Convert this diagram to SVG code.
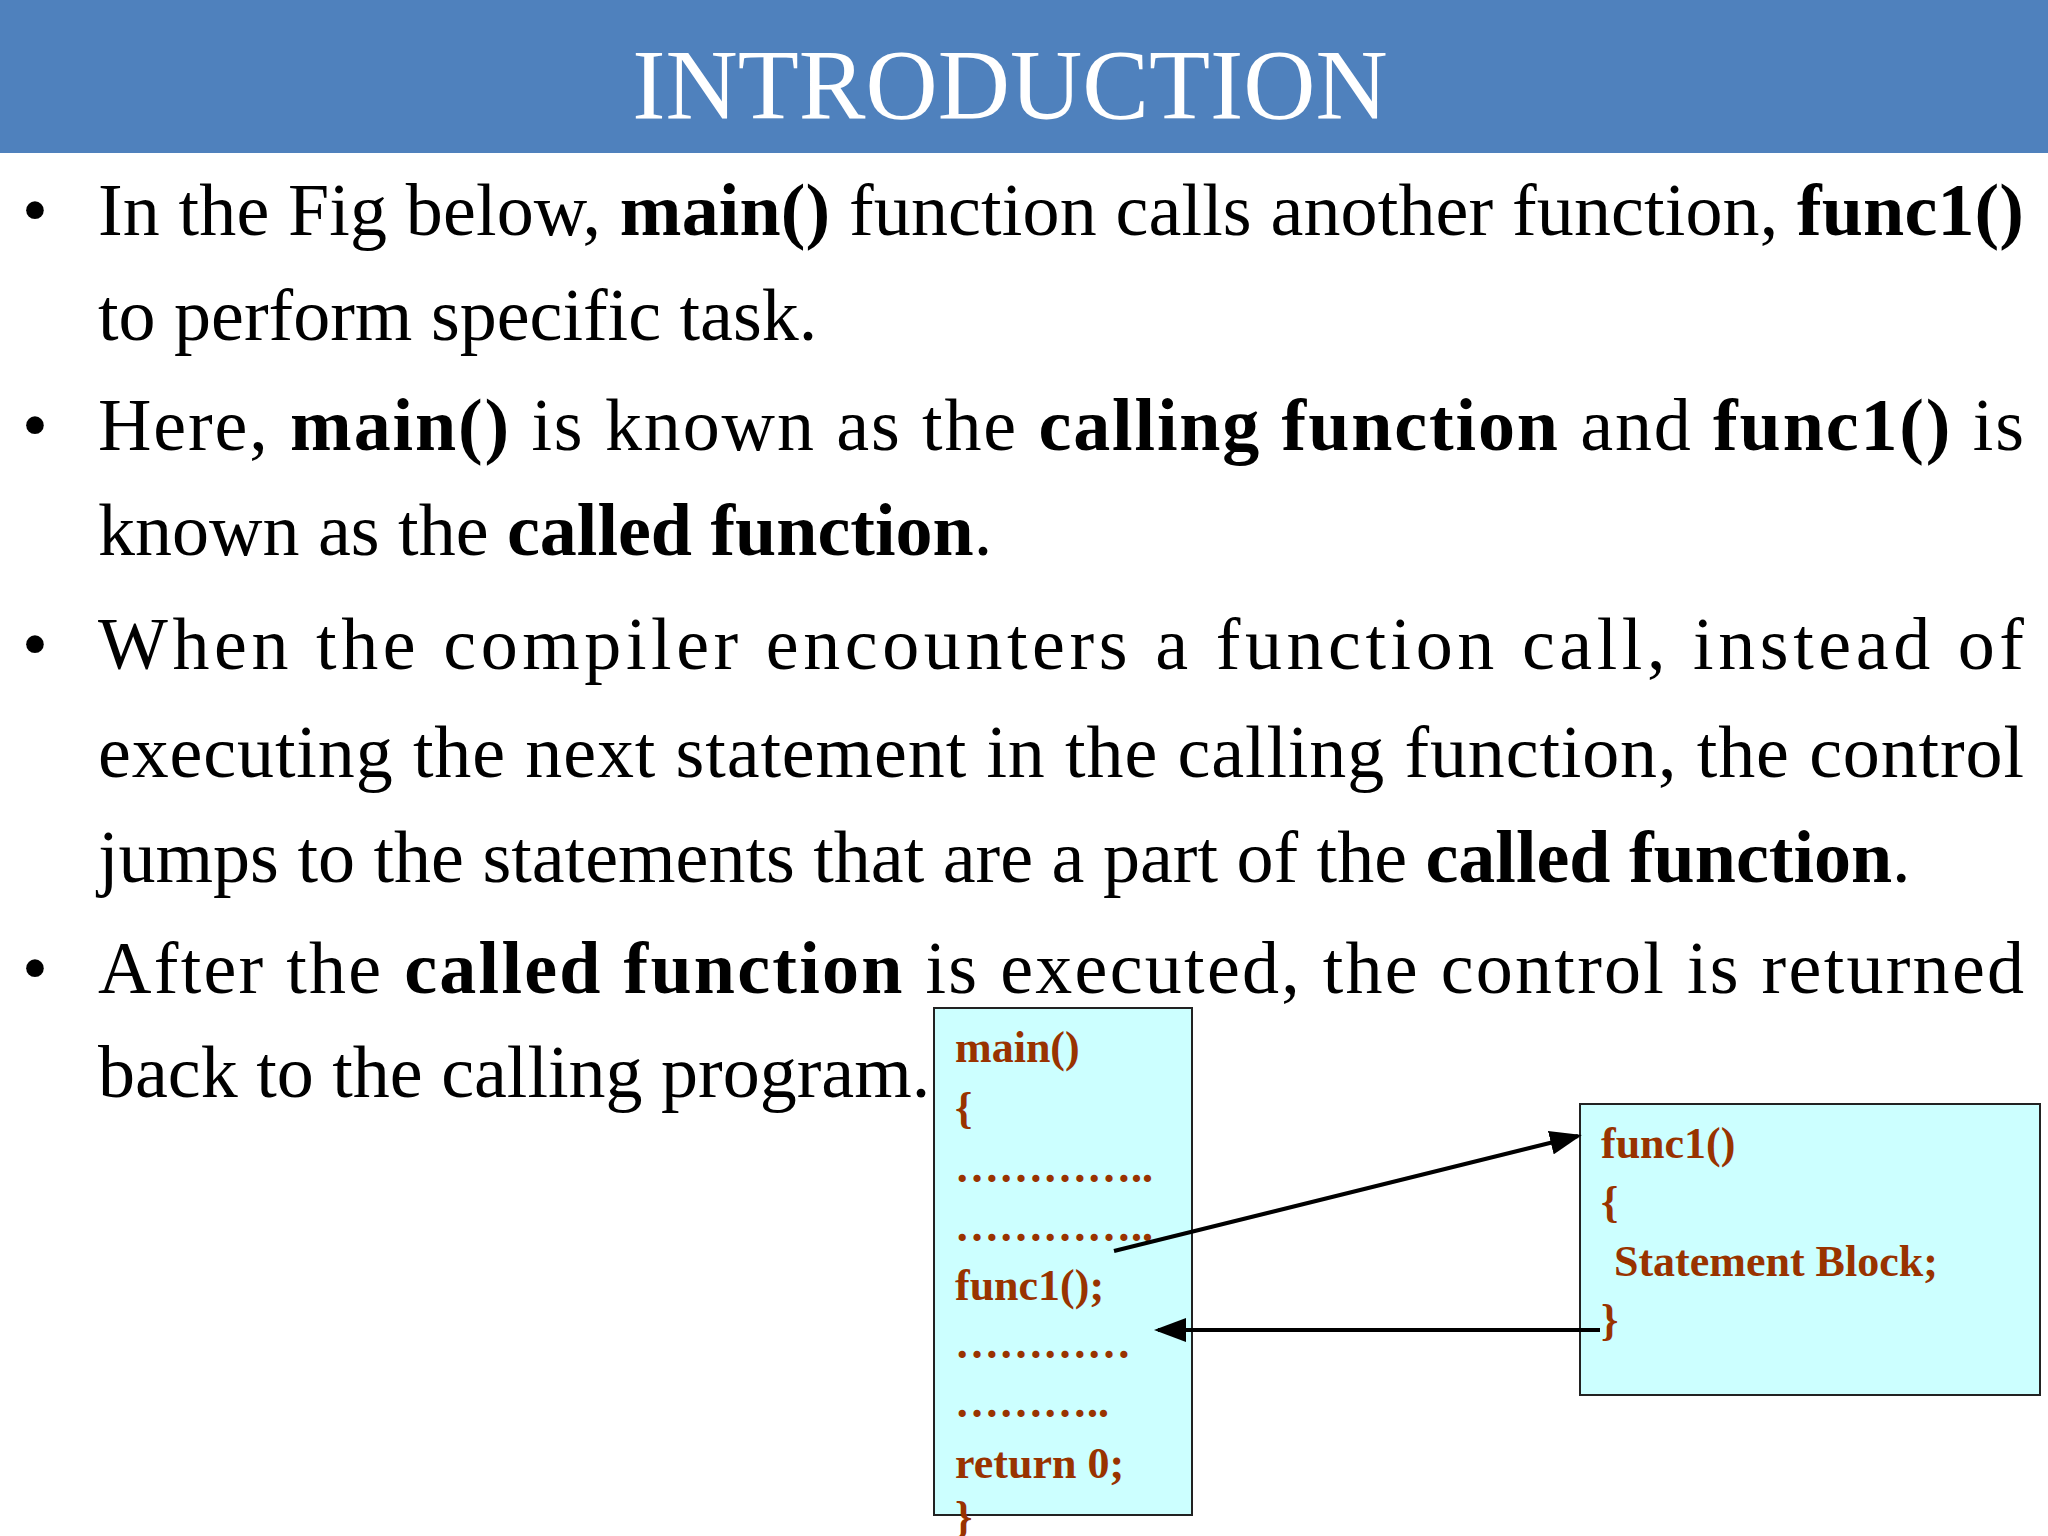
<svg xmlns="http://www.w3.org/2000/svg" width="2048" height="1536" viewBox="0 0 2048 1536">
<style>
.b{font-family:"Liberation Serif","Times New Roman",serif;font-size:74px;fill:#000}
.k{font-weight:bold}
.c{font-family:"Liberation Serif","Times New Roman",serif;font-size:44px;font-weight:bold;fill:#993300}
.box{fill:#ccffff;stroke:#222;stroke-width:2}
.ln{stroke:#000;stroke-width:4;fill:none;marker-end:url(#ah)}
</style>
<defs><marker id="ah" markerWidth="8" markerHeight="6" refX="7" refY="3" orient="auto" markerUnits="strokeWidth"><path d="M0,0 L8,3 L0,6 z" fill="#000"/></marker></defs>
<rect width="2048" height="1536" fill="#fff"/>
<rect x="0" y="0" width="2048" height="153" fill="#4f81bd"/>
<text x="1010" y="118" text-anchor="middle" font-family="Liberation Serif, serif" font-size="100" fill="#fff">INTRODUCTION</text>
<g id="bullets">
<text class="b" x="22" y="235">•</text>
<text class="b" x="98" y="235" textLength="1926" lengthAdjust="spacing">In the Fig below, <tspan class="k">main()</tspan> function calls another function, <tspan class="k">func1()</tspan></text>
<text class="b" x="98" y="340">to perform specific task.</text>
<text class="b" x="22" y="450">•</text>
<text class="b" x="98" y="450" textLength="1926" lengthAdjust="spacing">Here, <tspan class="k">main()</tspan> is known as the <tspan class="k">calling function</tspan> and <tspan class="k">func1()</tspan> is</text>
<text class="b" x="98" y="555">known as the <tspan class="k">called function</tspan>.</text>
<text class="b" x="22" y="669">•</text>
<text class="b" x="98" y="669" textLength="1926" lengthAdjust="spacing">When the compiler encounters a function call, instead of</text>
<text class="b" x="98" y="777" textLength="1926" lengthAdjust="spacing">executing the next statement in the calling function, the control</text>
<text class="b" x="98" y="882">jumps to the statements that are a part of the <tspan class="k">called function</tspan>.</text>
<text class="b" x="22" y="993">•</text>
<text class="b" x="98" y="993" textLength="1926" lengthAdjust="spacing">After the <tspan class="k">called function</tspan> is executed, the control is returned</text>
<text class="b" x="98" y="1097">back to the calling program.</text>
</g>
<g id="main">
<rect class="box" x="934" y="1008" width="258" height="507"/>
<text class="c" x="955" y="1062">main()</text>
<text class="c" x="955" y="1123">{</text>
<text class="c" x="955" y="1182">…………..</text>
<text class="c" x="955" y="1241">…………..</text>
<text class="c" x="955" y="1300">func1();</text>
<text class="c" x="955" y="1358">…………</text>
<text class="c" x="955" y="1417">………..</text>
<text class="c" x="955" y="1478">return 0;</text>
<text class="c" x="955" y="1532">}</text>
</g>
<g id="func1">
<rect class="box" x="1580" y="1104" width="460" height="291"/>
<text class="c" x="1601" y="1158">func1()</text>
<text class="c" x="1601" y="1217">{</text>
<text class="c" x="1614" y="1276">Statement Block;</text>
<text class="c" x="1601" y="1335">}</text>
</g>
<g id="connectors">
<line class="ln" x1="1114" y1="1251" x2="1578" y2="1136"/>
<line class="ln" x1="1600" y1="1330" x2="1158" y2="1330"/>
</g>
</svg>
